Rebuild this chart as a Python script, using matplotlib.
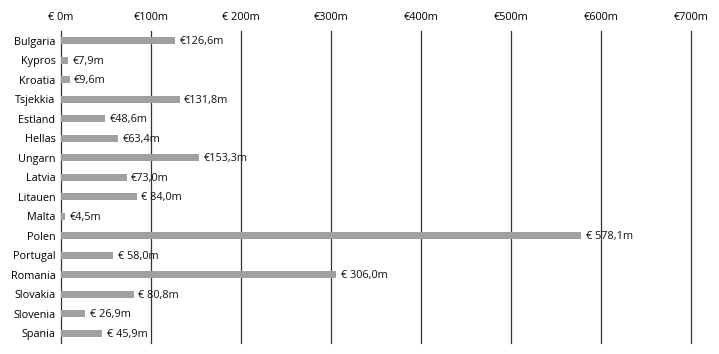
import matplotlib
matplotlib.use("Agg")
import matplotlib.pyplot as plt

countries = ["Bulgaria", "Kypros", "Kroatia", "Tsjekkia", "Estland", "Hellas", "Ungarn",
             "Latvia", "Litauen", "Malta", "Polen", "Portugal", "Romania", "Slovakia",
             "Slovenia", "Spania"]
values = [126.6, 7.9, 9.6, 131.8, 48.6, 63.4, 153.3, 73.0, 84.0, 4.5, 578.1, 58.0,
          306.0, 80.8, 26.9, 45.9]
value_labels = ["€126,6m", "€7,9m", "€9,6m", "€131,8m", "€48,6m", "€63,4m", "€153,3m",
                "€73,0m", "€ 84,0m", "€4,5m", "€ 578,1m", "€ 58,0m", "€ 306,0m",
                "€ 80,8m", "€ 26,9m", "€ 45,9m"]
tick_values = [0, 100, 200, 300, 400, 500, 600, 700]
tick_labels = ["€ 0m", "€100m", "€ 200m", "€300m", "€400m", "€500m", "€600m", "€700m"]

plt.rcParams['font.family'] = ['Open Sans', 'DejaVu Sans']

fig = plt.figure(figsize=(7.19, 3.54), dpi=100)
ax = fig.add_axes([61/719, 1-343/354, 630/719, 312/354])

y = list(range(len(countries)))
ax.barh(y, values, height=0.36, color="#a0a0a0", zorder=2)
for yi, v, lab in zip(y, values, value_labels):
    ax.text(v + 5, yi + 0.05, lab, va="center", ha="left", fontsize=7.8, color="#111111", zorder=3)

for t in tick_values:
    ax.axvline(t, color="#333333", linewidth=0.9, zorder=1, clip_on=False)

ax.set_xlim(0, 700)
ax.set_ylim(15.5, -0.5)
ax.set_yticks(y)
ax.set_yticklabels(countries, fontsize=7.8)
ax.set_xticks(tick_values)
ax.set_xticklabels(tick_labels, fontsize=7.8)
ax.xaxis.tick_top()
ax.tick_params(axis="x", length=0, pad=5.5)
ax.tick_params(axis="y", length=0, pad=4)
for s in ax.spines.values():
    s.set_visible(False)

fig.savefig("out.png", dpi=100)
